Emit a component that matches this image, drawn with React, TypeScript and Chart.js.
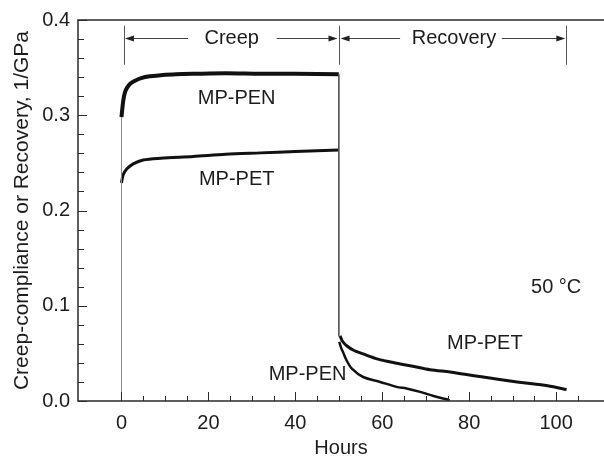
import React, { useEffect, useRef } from "react";
import { Chart, registerables } from "chart.js";

Chart.register(...registerables);

// Creep phase (load applied at t = 0, removed at t = 50 h)
const penCreepHours = [0, 0.4, 0.8, 1.3, 2, 3, 4.5, 6.5, 9, 12.5, 17, 24, 32, 40, 50];
const penCreep = [0.298, 0.315, 0.324, 0.329, 0.333, 0.336, 0.339, 0.341, 0.342, 0.343, 0.3435, 0.344, 0.3435, 0.3435, 0.343];

const petCreepHours = [0, 0.4, 1.2, 2.7, 5, 9, 16.5, 24, 32, 40, 50];
const petCreep = [0.229, 0.2376, 0.2435, 0.249, 0.2531, 0.2549, 0.2567, 0.259, 0.2605, 0.262, 0.2635];

// Recovery phase
const penRecoveryHours = [50.1, 50.6, 51, 51.8, 53, 55.6, 59.5, 63.3, 65.6, 68.7, 71.8, 74.8, 75.5];
const penRecovery = [0.062, 0.055, 0.051, 0.0425, 0.034, 0.0252, 0.02, 0.0148, 0.0132, 0.0096, 0.0052, 0.0018, 0.0005];

const petRecoveryHours = [50.3, 50.8, 51.8, 53.5, 55.6, 59, 63.3, 67, 71, 75.6, 79, 83.2, 87, 91, 95, 98.6, 102.4];
const petRecovery = [0.0684, 0.063, 0.058, 0.053, 0.0494, 0.044, 0.0397, 0.0365, 0.0328, 0.0304, 0.028, 0.0252, 0.0225, 0.02, 0.0178, 0.0155, 0.012];

// Instantaneous loading / unloading jumps
const loadingHours = [0, 0];
const loadingValues = [0, 0.298];
const unloadingHours = [50, 50];
const unloadingValues = [0.343, 0.068];

// Axis ticks
const xMajorTicks = [0, 20, 40, 60, 80, 100];
const xMinorTicks = [0, 5, 10, 15, 20, 25, 30, 35, 40, 45, 50, 55, 60, 65, 70, 75, 80, 85, 90, 95, 100, 105];
const yMajorTicks = [0, 0.1, 0.2, 0.3, 0.4];
const yMinorTicks = [0, 0.02, 0.04, 0.06, 0.08, 0.1, 0.12, 0.14, 0.16, 0.18, 0.2, 0.22, 0.24, 0.26, 0.28, 0.3, 0.32, 0.34, 0.36, 0.38, 0.4];

// Phase brackets along the top
const bracketHours = [0.5, 50, 102.3];
const bracketSpan = [0.353, 0.394];
const arrowLevel = 0.381;
const phaseArrows = [
  { from: 15.3, to: 0.8 },
  { from: 35.7, to: 49.7 },
  { from: 64.1, to: 50.4 },
  { from: 87.5, to: 102.1 },
];
const phaseLabels = [
  { text: "Creep", x: 25.35 },
  { text: "Recovery", x: 76.5 },
];

// Curve labels
const curveLabels = [
  { text: "MP-PEN", x: 26.5, y: 0.3176 },
  { text: "MP-PET", x: 26.5, y: 0.2321 },
  { text: "MP-PET", x: 83.6, y: 0.0606 },
  { text: "MP-PEN", x: 42.8, y: 0.028 },
  { text: "50 °C", x: 100, y: 0.1187 },
];

const FONT = "'Liberation Sans', Arial, Helvetica, sans-serif";
const INK = "#1c1c1c";

const toPoints = (xs: number[], ys: number[]) => xs.map((x, i) => ({ x, y: ys[i] }));

const decorations = {
  id: "decorations",
  afterDatasetsDraw(chart: any) {
    const { ctx, scales } = chart;
    const xs = scales.x;
    const ys = scales.y;
    ctx.save();

    // bracket bars
    ctx.strokeStyle = "#555";
    ctx.lineWidth = 1;
    bracketHours.forEach((h) => {
      const px = Math.round(xs.getPixelForValue(h)) + 0.5;
      ctx.beginPath();
      ctx.moveTo(px, ys.getPixelForValue(bracketSpan[1]));
      ctx.lineTo(px, ys.getPixelForValue(bracketSpan[0]));
      ctx.stroke();
    });

    // arrows
    const ay = Math.round(ys.getPixelForValue(arrowLevel)) + 0.5;
    phaseArrows.forEach((a) => {
      const x1 = xs.getPixelForValue(a.from);
      const x2 = xs.getPixelForValue(a.to);
      const dir = Math.sign(x2 - x1);
      ctx.strokeStyle = "#444";
      ctx.lineWidth = 1;
      ctx.beginPath();
      ctx.moveTo(x1, ay);
      ctx.lineTo(x2 - dir * 6, ay);
      ctx.stroke();
      ctx.fillStyle = "#222";
      ctx.beginPath();
      ctx.moveTo(x2, ay);
      ctx.lineTo(x2 - dir * 9, ay - 3);
      ctx.lineTo(x2 - dir * 9, ay + 3);
      ctx.closePath();
      ctx.fill();
    });

    ctx.fillStyle = INK;
    ctx.font = `20px ${FONT}`;
    ctx.textAlign = "center";
    ctx.textBaseline = "middle";
    phaseLabels.forEach((l) => {
      ctx.fillText(l.text, xs.getPixelForValue(l.x), ay);
    });
    curveLabels.forEach((l) => {
      ctx.fillText(l.text, xs.getPixelForValue(l.x), ys.getPixelForValue(l.y));
    });
    ctx.restore();
  },
  afterDraw(chart: any) {
    const { ctx, chartArea, scales } = chart;
    const xs = scales.x;
    const ys = scales.y;
    const { left, right, top, bottom } = chartArea;
    ctx.save();
    ctx.strokeStyle = "#2a2a2a";
    ctx.lineWidth = 1.5;
    ctx.beginPath();
    ctx.moveTo(right, top);
    ctx.lineTo(left, top);
    ctx.lineTo(left, bottom);
    ctx.lineTo(right, bottom);
    ctx.stroke();

    ctx.lineWidth = 1;
    ctx.beginPath();
    xMinorTicks.forEach((v) => {
      const px = Math.round(xs.getPixelForValue(v)) + 0.5;
      const len = xMajorTicks.includes(v) ? 9 : 5;
      ctx.moveTo(px, bottom);
      ctx.lineTo(px, bottom - len);
    });
    yMinorTicks.forEach((v) => {
      const py = Math.round(ys.getPixelForValue(v)) + 0.5;
      const major = yMajorTicks.some((m) => Math.abs(m - v) < 1e-9);
      ctx.moveTo(left, py);
      ctx.lineTo(left + (major ? 9 : 6), py);
    });
    ctx.stroke();
    ctx.restore();
  },
};

export default function App() {
  const canvasRef = useRef<HTMLCanvasElement | null>(null);

  useEffect(() => {
    const canvas = canvasRef.current;
    if (!canvas) return;

    const chart = new Chart(canvas, {
      type: "line",
      data: {
        datasets: [
          {
            label: "loading",
            data: toPoints(loadingHours, loadingValues),
            borderColor: "#888",
            borderWidth: 1,
            pointRadius: 0,
          },
          {
            label: "unloading",
            data: toPoints(unloadingHours, unloadingValues),
            borderColor: "#555",
            borderWidth: 1,
            pointRadius: 0,
          },
          {
            label: "MP-PEN creep",
            data: toPoints(penCreepHours, penCreep),
            borderColor: "#111",
            borderWidth: 4,
            pointRadius: 0,
            tension: 0.3,
          },
          {
            label: "MP-PET creep",
            data: toPoints(petCreepHours, petCreep),
            borderColor: "#111",
            borderWidth: 3,
            pointRadius: 0,
            tension: 0.3,
          },
          {
            label: "MP-PEN recovery",
            data: toPoints(penRecoveryHours, penRecovery),
            borderColor: "#111",
            borderWidth: 2.5,
            pointRadius: 0,
            tension: 0.3,
          },
          {
            label: "MP-PET recovery",
            data: toPoints(petRecoveryHours, petRecovery),
            borderColor: "#111",
            borderWidth: 3,
            pointRadius: 0,
            tension: 0.3,
          },
        ],
      },
      options: {
        animation: false,
        responsive: false,
        devicePixelRatio: 1,
        layout: { padding: { top: 15, right: 0, left: 0, bottom: 0 } },
        plugins: {
          legend: { display: false },
          tooltip: { enabled: false },
        },
        scales: {
          x: {
            type: "linear",
            min: -10,
            max: 111,
            grid: { display: false, drawTicks: false },
            border: { display: false },
            afterFit: (s: any) => {
              s.height = 56;
            },
            afterBuildTicks: (s: any) => {
              s.ticks = xMajorTicks.map((v) => ({ value: v }));
            },
            ticks: {
              color: INK,
              font: { family: FONT, size: 20 },
              padding: 10,
              maxRotation: 0,
              autoSkip: false,
              callback: (v: any) => String(v),
            },
            title: {
              display: true,
              text: "Hours",
              color: INK,
              font: { family: FONT, size: 20, lineHeight: 0.85 },
              padding: 0,
            },
          },
          y: {
            type: "linear",
            min: 0,
            max: 0.4,
            grid: { display: false, drawTicks: false },
            border: { display: false },
            afterFit: (s: any) => {
              s.width = 78;
            },
            afterBuildTicks: (s: any) => {
              s.ticks = yMajorTicks.map((v) => ({ value: v }));
            },
            ticks: {
              color: INK,
              font: { family: FONT, size: 20 },
              padding: 8,
              autoSkip: false,
              callback: (v: any) => Number(v).toFixed(1),
            },
            title: {
              display: true,
              text: "Creep-compliance or Recovery, 1/GPa",
              color: INK,
              font: { family: FONT, size: 21, lineHeight: 1.2 },
              padding: { top: 10, bottom: 0 },
            },
          },
        },
      },
      plugins: [decorations],
    });

    return () => chart.destroy();
  }, []);

  return (
    <div style={{ position: "fixed", left: 0, top: 0, width: 604, height: 457, background: "#fff", overflow: "hidden" }}>
      <canvas ref={canvasRef} width={604} height={457} style={{ display: "block" }} />
    </div>
  );
}
